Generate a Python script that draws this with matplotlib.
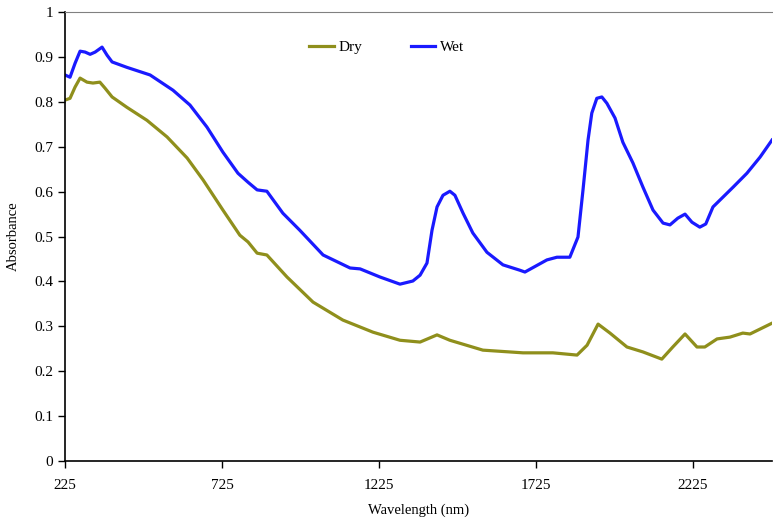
import matplotlib

matplotlib.use("Agg")
import matplotlib.pyplot as plt  # noqa: E402
from matplotlib.ticker import FormatStrFormatter, FixedLocator  # noqa: E402

# Wavelength (nm) / absorbance
wet_wl = [225, 241, 257, 273, 289, 305, 321, 343, 359, 375, 422, 496, 569,
          623, 677, 728, 776, 808, 837, 868, 919, 973, 1047, 1133, 1165,
          1228, 1292, 1333, 1356, 1378, 1394, 1410, 1429, 1451, 1467, 1493,
          1524, 1569, 1620, 1674, 1690, 1760, 1792, 1833, 1859, 1875, 1891,
          1903, 1919, 1935, 1951, 1977, 2002, 2034, 2066, 2098, 2130, 2152,
          2177, 2200, 2222, 2247, 2266, 2289, 2353, 2397, 2439, 2477]
wet_abs = [0.860, 0.855, 0.886, 0.913, 0.911, 0.906, 0.911, 0.922, 0.904,
           0.889, 0.877, 0.860, 0.826, 0.793, 0.744, 0.688, 0.641, 0.621,
           0.604, 0.601, 0.552, 0.514, 0.459, 0.430, 0.428, 0.410, 0.394,
           0.401, 0.414, 0.441, 0.514, 0.566, 0.592, 0.601, 0.592, 0.552,
           0.508, 0.465, 0.437, 0.425, 0.421, 0.448, 0.454, 0.454, 0.499,
           0.604, 0.715, 0.775, 0.808, 0.811, 0.797, 0.764, 0.710, 0.664,
           0.610, 0.559, 0.530, 0.526, 0.541, 0.550, 0.532, 0.521, 0.528,
           0.566, 0.610, 0.641, 0.677, 0.715]

dry_wl = [225, 241, 257, 273, 295, 314, 336, 352, 375, 422, 486, 550, 614,
          665, 728, 782, 808, 837, 868, 932, 1015, 1110, 1206, 1292, 1356,
          1410, 1451, 1556, 1684, 1779, 1856, 1888, 1923, 1961, 2015, 2066,
          2126, 2161, 2200, 2238, 2263, 2302, 2343, 2384, 2407, 2477]
dry_abs = [0.804, 0.808, 0.833, 0.853, 0.844, 0.842, 0.844, 0.831, 0.811,
           0.788, 0.759, 0.722, 0.675, 0.626, 0.559, 0.503, 0.488, 0.463,
           0.459, 0.410, 0.354, 0.314, 0.287, 0.269, 0.265, 0.281, 0.269,
           0.247, 0.241, 0.241, 0.236, 0.258, 0.305, 0.285, 0.254, 0.243,
           0.227, 0.254, 0.283, 0.254, 0.254, 0.272, 0.276, 0.285, 0.283,
           0.307]

x_ticks = [225, 725, 1225, 1725, 2225]
y_ticks = [0, 0.1, 0.2, 0.3, 0.4, 0.5, 0.6, 0.7, 0.8, 0.9, 1]

_DRY = "#8f8f1c"
_WET = "#1a1aff"

plt.rcParams["font.family"] = ["Liberation Serif", "DejaVu Serif"]

fig = plt.figure(figsize=(7.73, 5.27), dpi=100)
ax = fig.add_axes([0.0841, 0.1252, 0.9146, 0.8518])

ax.plot(dry_wl, dry_abs, color=_DRY, lw=2.3, label="Dry",
        solid_joinstyle="round")
ax.plot(wet_wl, wet_abs, color=_WET, lw=2.3, label="Wet",
        solid_joinstyle="round")

ax.set_xlim(225, 2477)
ax.set_ylim(0, 1)
ax.xaxis.set_major_locator(FixedLocator(x_ticks))
ax.yaxis.set_major_locator(FixedLocator(y_ticks))
ax.yaxis.set_major_formatter(FormatStrFormatter("%g"))
ax.tick_params(axis="both", direction="out", length=5, width=1,
               labelsize=11, color="black")
ax.tick_params(axis="x", pad=8)

ax.spines["right"].set_visible(False)
ax.spines["top"].set_color("#808080")
ax.spines["left"].set_linewidth(1.2)
ax.spines["bottom"].set_linewidth(1.2)

ax.set_xlabel("Wavelength (nm)", fontsize=10.5, labelpad=8)
ax.set_ylabel("Absorbance", fontsize=10.5, labelpad=10)

ax.legend(loc="center", bbox_to_anchor=(0.455, 0.922), ncol=2,
          frameon=False, fontsize=11, handlelength=1.6, handletextpad=0.3,
          columnspacing=3.2)

fig.savefig("out.png", dpi=100)
plt.close(fig)
